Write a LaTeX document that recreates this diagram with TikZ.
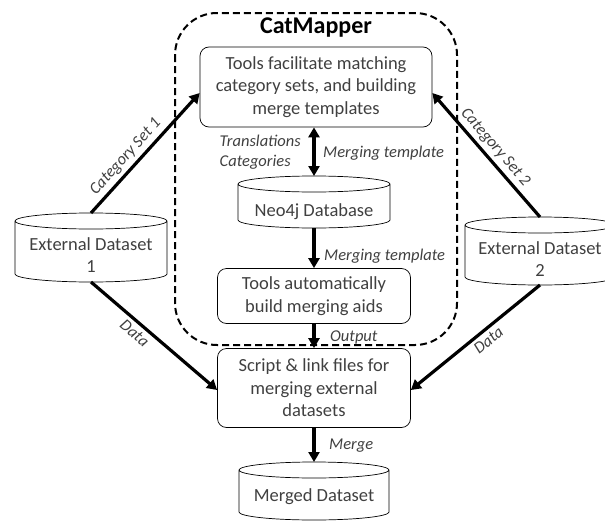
\documentclass[tikz,border=0pt]{standalone}
\usepackage{fontspec}
\setmainfont{Carlito}
\usetikzlibrary{arrows.meta}
\definecolor{txt}{HTML}{404040}
\newcommand\dbcyl[7]{% name, cx, top, bottom, half width, text y, text
  \coordinate (#1-t) at (#2,#3);
  \coordinate (#1-b) at (#2,#4);
  \draw[dbline] (#2-#5,#3+8) -- (#2-#5,#4-8)
    arc[start angle=180,end angle=360,x radius=#5pt,y radius=8pt]
    -- (#2+#5,#3+8)
    arc[start angle=0,end angle=360,x radius=#5pt,y radius=8pt];
  \node[dbtext] (#1) at (#2,#6) {#7};
}
\begin{document}
\begin{tikzpicture}[x=1pt,y=-1pt,
  box/.style={draw, rounded corners=9pt, line width=0.7pt, align=center, text=txt,
    font=\fontsize{18.5}{22.5}\selectfont, inner sep=0pt},
  dbline/.style={line width=0.7pt},
  dbtext/.style={align=center, text=txt, font=\fontsize{18.5}{22.5}\selectfont, inner sep=0pt},
  lbl/.style={text=txt, font=\fontsize{16.5}{20}\selectfont\itshape, inner sep=2pt},
  slbl/.style={lbl, sloped, inner sep=3.5pt},
  arr/.style={line width=3.2pt, -{Triangle[length=10pt,width=11pt]}},
  darr/.style={line width=3.2pt, {Triangle[length=10pt,width=11pt]}-{Triangle[length=10pt,width=11pt]}},
  container/.style={line width=2pt, dash pattern=on 7pt off 4pt, rounded corners=42pt},
]
\useasboundingbox (0,0) rectangle (605,522);

% container
\draw[container] (175,13) rectangle (457,345);
\node[font=\fontsize{24}{28}\selectfont\bfseries, text=black, inner sep=0pt] (title) at (316,28) {CatMapper};

% boxes
\node[box, minimum width=232pt, minimum height=80pt] (tb) at (316,87)
  {Tools facilitate matching\\category sets, and building\\merge templates};
\node[box, minimum width=193pt, minimum height=55pt] (ab) at (314,296)
  {Tools automatically\\build merging aids};
\node[box, minimum width=193pt, minimum height=79pt] (sb) at (314,388)
  {Script \& link files for\\merging external\\datasets};

% cylinders
\dbcyl{neo}{314}{176}{228}{76}{212}{Neo4j Database}
\dbcyl{ea}{91}{213}{282}{76}{255}{External Dataset\\1}
\dbcyl{eb}{540}{217}{285}{75}{259}{External Dataset\\2}
\dbcyl{md}{314}{462}{520}{75}{497}{Merged Dataset}

% connectors
\draw[darr] (tb.south -| neo-t) -- (neo-t);
\draw[arr] (neo-b) -- (neo-b |- ab.north);
\draw[arr] (ab.south) -- (sb.north);
\draw[arr] (sb.south) -- (md-t);
\draw[arr] (ea-t) -- node[slbl, above, pos=0.4] {Category Set 1} ([yshift=-6pt]tb.west);
\draw[arr] (eb-t) -- node[slbl, above, pos=0.5] {Category Set 2} ([yshift=-6pt]tb.east);
\draw[arr] (ea-b) -- node[slbl, below, pos=0.4] {Data} ([yshift=-2pt]sb.west);
\draw[arr] (eb-b) -- node[slbl, below, pos=0.45] {Data} ([yshift=-2pt]sb.east);

% labels
\node[lbl, anchor=east, align=left] (trans) at (303,152) {Translations\\Categories};
\node[lbl, anchor=west] (mt1) at (321,153) {Merging template};
\node[lbl, anchor=west] (mt2) at (322,256) {Merging template};
\node[lbl, anchor=west] (out) at (328,337) {Output};
\node[lbl, anchor=west] (mrg) at (327,446) {Merge};
\end{tikzpicture}
\end{document}
